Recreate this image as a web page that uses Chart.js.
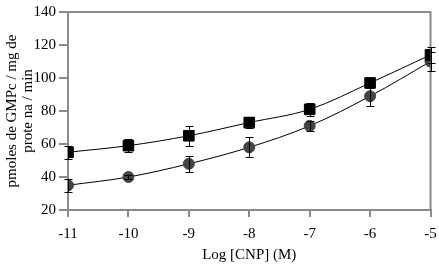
<!DOCTYPE html>
<html>
<head>
<meta charset="utf-8">
<script src="https://cdn.jsdelivr.net/npm/chart.js@4/dist/chart.umd.min.js"></script>
<style>
  html, body { margin: 0; padding: 0; background: #fff; }
  #wrap { width: 439px; height: 264px; }
</style>
</head>
<body>
<div id="wrap"><canvas id="c" width="439" height="264"></canvas></div>
<script>
const logCNP = [-11, -10, -9, -8, -7, -6, -5];
const squareVals = [55, 59, 65, 73, 81, 97, 114];
const squareErr = [4, 4, 6, 3.5, 4, 3, 5];
const circleVals = [35, 40, 48, 58, 71, 89, 110];
const circleErr = [4, 1.5, 5, 6, 3, 6, 6];
const yTicks = [20, 40, 60, 80, 100, 120, 140];

const FONT = "'Liberation Serif', 'DejaVu Serif', serif";
const AXIS = "#8a8a8a";

function pts(vals) {
    return logCNP.map(function (x, i) { return { x: x, y: vals[i] }; });
}

// error bars and the top/right frame, drawn through the chart's scales
const errorBars = {
    id: "errorBars",
    afterDatasetsDraw: function (chart) {
        const ctx = chart.ctx;
        const xs = chart.scales.x, ys = chart.scales.y;
        const sets = [[squareVals, squareErr], [circleVals, circleErr]];
        ctx.save();
        ctx.strokeStyle = "#000";
        ctx.lineWidth = 1;
        sets.forEach(function (s) {
            s[0].forEach(function (v, i) {
                const px = Math.round(xs.getPixelForValue(logCNP[i])) + 0.5;
                const top = Math.round(ys.getPixelForValue(v + s[1][i])) + 0.5;
                const bot = Math.round(ys.getPixelForValue(v - s[1][i])) + 0.5;
                ctx.beginPath();
                ctx.moveTo(px, top); ctx.lineTo(px, bot);
                ctx.moveTo(px - 4, top); ctx.lineTo(px + 4, top);
                ctx.moveTo(px - 4, bot); ctx.lineTo(px + 4, bot);
                ctx.stroke();
            });
        });
        ctx.restore();
    },
    beforeDatasetsDraw: function (chart) {
        const a = chart.chartArea;
        const ctx = chart.ctx;
        ctx.save();
        ctx.strokeStyle = AXIS;
        ctx.lineWidth = 2;
        ctx.beginPath();
        ctx.moveTo(a.left, a.top); ctx.lineTo(a.right, a.top); ctx.lineTo(a.right, a.bottom);
        ctx.stroke();
        ctx.restore();
    }
};

new Chart(document.getElementById("c"), {
    type: "scatter",
    data: {
        datasets: [
            {
                data: pts(squareVals), showLine: true, tension: 0.35,
                borderColor: "#000", borderWidth: 1, pointStyle: "rect", pointRadius: 7.5,
                pointBackgroundColor: "#000", pointBorderColor: "#000"
            },
            {
                data: pts(circleVals), showLine: true, tension: 0.35,
                borderColor: "#000", borderWidth: 1, pointStyle: "circle", pointRadius: 5.5,
                pointBackgroundColor: "#444", pointBorderColor: "#444"
            }
        ]
    },
    options: {
        responsive: false,
        animation: false,
        layout: { padding: { top: 10, right: 7, left: 0, bottom: 0 } },
        plugins: { legend: { display: false }, tooltip: { enabled: false } },
        scales: {
            x: {
                type: "linear", min: -11, max: -5,
                afterBuildTicks: function (s) { s.ticks = logCNP.map(function (v) { return { value: v }; }); },
                grid: { drawOnChartArea: false, drawTicks: true, tickLength: 7, color: AXIS, lineWidth: 2 },
                border: { color: AXIS, width: 2 },
                ticks: { color: "#000", font: { family: FONT, size: 15 }, padding: 8, maxRotation: 0 },
                title: { display: true, text: "Log [CNP] (M)", color: "#000", font: { family: FONT, size: 15 }, padding: { top: 0, bottom: 0 } },
                afterFit: function (s) { s.height = 54; s.paddingRight = 0; s.paddingLeft = 0; }
            },
            y: {
                min: 20, max: 140,
                afterBuildTicks: function (s) { s.ticks = yTicks.map(function (v) { return { value: v }; }); },
                grid: { drawOnChartArea: false, drawTicks: true, tickLength: 9, color: AXIS, lineWidth: 2 },
                border: { color: AXIS, width: 2 },
                ticks: { color: "#000", font: { family: FONT, size: 15 }, padding: 3 },
                title: { display: true, text: ["pmoles de GMPc / mg de", "prote na / min"], color: "#000", font: { family: FONT, size: 15, lineHeight: 1.05 }, padding: { top: 4, bottom: 2 } },
                afterFit: function (s) { s.width = 68; }
            }
        }
    },
    plugins: [errorBars]
});
</script>
</body>
</html>
